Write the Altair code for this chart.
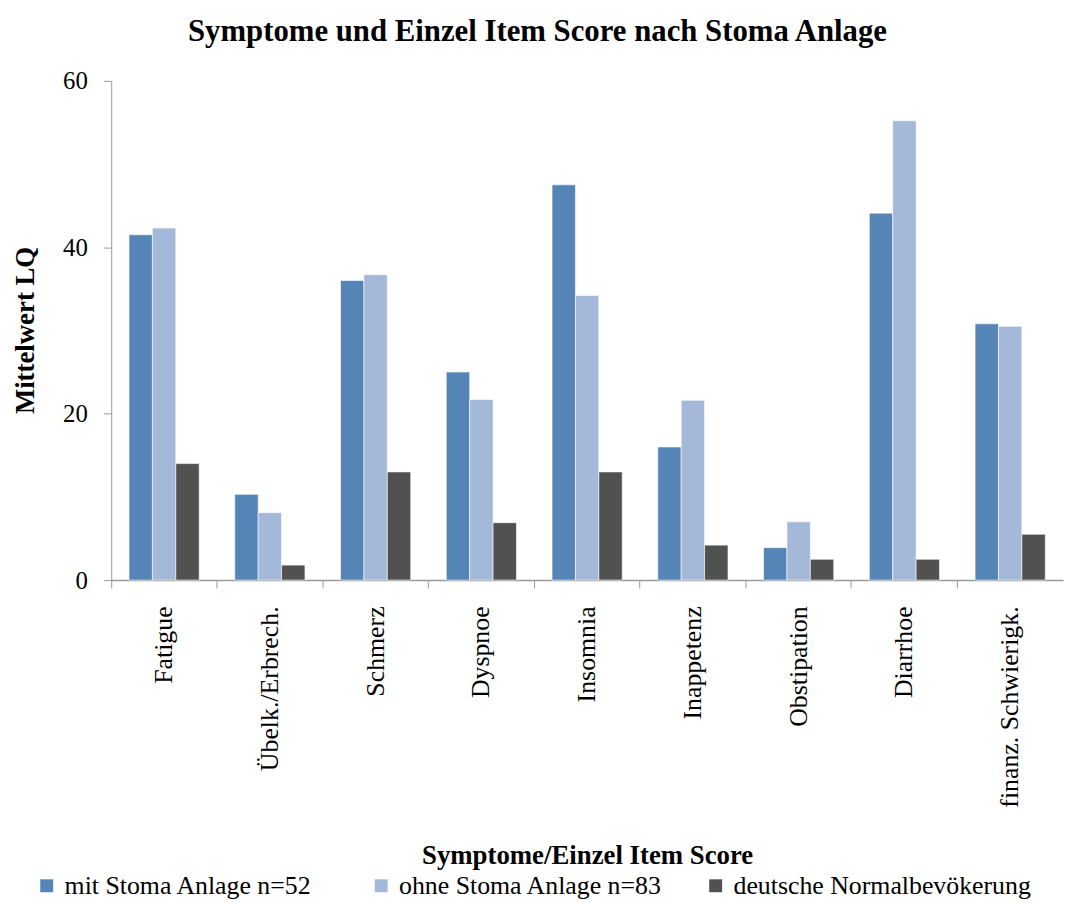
import altair as alt
import pandas as pd

categories = ["Fatigue", "Übelk./Erbrech.", "Schmerz", "Dyspnoe", "Insomnia",
              "Inappetenz", "Obstipation", "Diarrhoe", "finanz. Schwierigk."]
series = ["mit Stoma Anlage n=52", "ohne Stoma Anlage n=83", "deutsche Normalbevökerung"]
mit_stoma = [41.5, 10.3, 36.0, 25.0, 47.5, 16.0, 3.9, 44.1, 30.8]
ohne_stoma = [42.3, 8.1, 36.7, 21.7, 34.2, 21.6, 7.0, 55.2, 30.5]
normal = [14.0, 1.8, 13.0, 6.9, 13.0, 4.2, 2.5, 2.5, 5.5]
colors = ["#5584B6", "#A4B8D9", "#515151"]
y_ticks = [0, 20, 40, 60]

rows = []
for name, vals in zip(series, [mit_stoma, ohne_stoma, normal]):
    for c, v in zip(categories, vals):
        rows.append({"Kategorie": c, "Gruppe": name, "Wert": v})
df = pd.DataFrame(rows)

FONT = "Liberation Serif"
AXIS_GREY = "#9a9a9a"

x_scale = alt.Scale(paddingInner=0, paddingOuter=0)
y_enc = alt.Y("Wert:Q", scale=alt.Scale(domain=[0, 60], nice=False),
              axis=alt.Axis(values=y_ticks, title="Mittelwert LQ", grid=False,
                            labelFont=FONT, labelFontSize=25, labelColor="black",
                            labelPadding=16, tickSize=8, tickColor=AXIS_GREY,
                            domainColor=AXIS_GREY, domainWidth=1,
                            titleFont=FONT, titleFontSize=27, titleFontWeight="bold",
                            titleColor="black", titleX=-86, titleY=251,
                            titleBaseline="middle"))

base = alt.Chart(df)

bars = base.mark_bar(stroke="white", strokeWidth=0.6).encode(
    x=alt.X("Kategorie:N", sort=categories, scale=x_scale,
            axis=alt.Axis(orient="bottom", title="Symptome/Einzel Item Score",
                          labelAngle=-90, labelAlign="right", labelBaseline="middle",
                          labelFont=FONT, labelFontSize=26, labelColor="black",
                          labelPadding=26, ticks=False, tickSize=0, domain=False,
                          labelLimit=400,
                          titleFont=FONT, titleFontSize=27, titleFontWeight="bold",
                          titleColor="black", titleY=278, titleBaseline="middle")),
    xOffset=alt.XOffset("Gruppe:N", sort=series,
                        scale=alt.Scale(paddingInner=0, paddingOuter=0.76)),
    y=y_enc,
    color=alt.Color("Gruppe:N", sort=series,
                    scale=alt.Scale(domain=series, range=colors),
                    legend=alt.Legend(title=None, orient="none", direction="horizontal",
                                      columns=3, gridAlign="all",
                                      legendX=-78, legendY=798,
                                      symbolType="square", symbolSize=169,
                                      symbolStrokeWidth=0, labelFont=FONT,
                                      labelFontSize=26, labelColor="black",
                                      labelOffset=5, columnPadding=6,
                                      labelLimit=500)),
)

ticks_axis = base.mark_bar(opacity=0).encode(
    x=alt.X("Kategorie:N", sort=categories, scale=x_scale,
            axis=alt.Axis(orient="bottom", title=None, labels=False,
                          bandPosition=0, ticks=True, tickSize=8,
                          tickColor=AXIS_GREY, domainColor=AXIS_GREY,
                          domainWidth=1.5)),
    y=y_enc,
)

chart = alt.layer(bars, ticks_axis).resolve_axis(x="independent").properties(
    width=959,
    height=503,
    autosize="none",
    padding={"left": 104, "top": 70, "right": 5, "bottom": 326},
    title=alt.TitleParams("Symptome und Einzel Item Score nach Stoma Anlage",
                          font=FONT, fontSize=31, fontWeight="bold",
                          color="black", anchor="middle", frame="group",
                          dx=-50, offset=26, dy=343),
).configure_view(stroke=None).configure_legend(labelFont=FONT)

chart.save("out.html", embed_options={"renderer": "svg", "actions": False})
